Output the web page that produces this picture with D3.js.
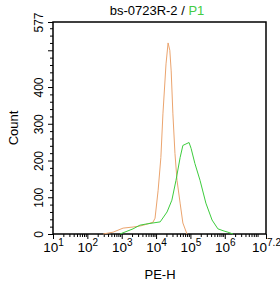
<!DOCTYPE html>
<html lang="en">
<head>
<meta charset="utf-8">
<title>bs-0723R-2 / P1</title>
<script src="https://cdn.jsdelivr.net/npm/d3@7"></script>
<style>
  body { margin: 0; background: #fff; }
  text { font-family: "Liberation Sans", Arial, sans-serif; }
</style>
</head>
<body>
<script>
// PE-H as log10 exponent, counts
var ctrlLog   = [2.46, 2.75, 3.04, 3.33, 3.55, 3.74, 3.91, 3.97, 4.06, 4.14, 4.20, 4.29, 4.35, 4.40, 4.44, 4.49, 4.55, 4.61, 4.70, 4.78, 4.90];
var ctrlCount = [0,    5,    16,   19,   22,   27,   32,   43,   119,  208,  327,  463,  520,  500,  444,  327,  219,  146,  84,   30,   0];

var p1Log   = [2.95, 3.33, 3.53, 3.70, 3.91, 4.12, 4.32, 4.46, 4.58, 4.70, 4.78, 4.87, 4.96, 5.02, 5.13, 5.28, 5.45, 5.63, 5.80, 5.98, 6.09, 6.24];
var p1Count = [0,    14,   24,   27,   30,   33,   60,   92,   146,  208,  241,  245,  249,  233,  192,  146,  84,   38,   14,   8,    5,    0];

var xMajor = [1, 2, 3, 4, 5, 6, 7.2];
var yLabels = [0, 100, 200, 300, 400, 577];
var yMajor = [0, 100, 200, 300, 400, 500, 577];

var w = 280, h = 286;
var mLeft = 53, mRight = 266, mTop = 22, mBottom = 234;

var svg = d3.select("body").append("svg")
  .attr("width", w)
  .attr("height", h);

var x = d3.scaleLog().domain([10, Math.pow(10, 7.2)]).range([mLeft, mRight]);
var y = d3.scaleLinear().domain([0, 577]).range([mBottom, mTop]);

// minor ticks
var xMinor = [];
for (var e = 1; e < 7.2; e++) {
  for (var k = 2; k <= 9; k++) {
    var v = k * Math.pow(10, e);
    if (v < Math.pow(10, 7.2)) xMinor.push(v);
  }
}
var yMinor = d3.range(0, 577, 20).filter(function(d) { return d % 100 != 0; });

svg.append("g")
  .attr("transform", "translate(0," + mBottom + ")")
  .call(d3.axisBottom(x).tickValues(xMinor).tickSize(3).tickFormat(""))
  .call(function(g) { g.select(".domain").remove(); });

svg.append("g")
  .attr("transform", "translate(" + mLeft + ",0)")
  .call(d3.axisLeft(y).tickValues(yMinor).tickSize(3).tickFormat(""))
  .call(function(g) { g.select(".domain").remove(); });

// major x axis
var gx = svg.append("g")
  .attr("transform", "translate(0," + mBottom + ")")
  .call(d3.axisBottom(x)
    .tickValues(xMajor.map(function(d) { return Math.pow(10, d); }))
    .tickSize(5).tickFormat(""));
gx.select(".domain").remove();
gx.selectAll(".tick").each(function(d, i) {
  var t = d3.select(this).append("text")
    .attr("y", 18)
    .attr("fill", "#000")
    .attr("text-anchor", "middle")
    .attr("font-size", "13.5px");
  t.append("tspan").text("10");
  t.append("tspan").attr("dy", -6).attr("font-size", "10px").text(xMajor[i]);
});

// major y axis
var gy = svg.append("g")
  .attr("transform", "translate(" + mLeft + ",0)")
  .call(d3.axisLeft(y).tickValues(yMajor).tickSize(5).tickFormat(""));
gy.select(".domain").remove();
gy.selectAll(".tick").each(function(d) {
  if (yLabels.indexOf(d) < 0) return;
  d3.select(this).append("text")
    .attr("transform", "translate(-10,0) rotate(-90)")
    .attr("text-anchor", "middle")
    .attr("fill", "#000")
    .attr("font-size", "12px")
    .text(d);
});

// frame
svg.append("rect")
  .attr("x", mLeft).attr("y", mTop)
  .attr("width", mRight - mLeft).attr("height", mBottom - mTop)
  .attr("fill", "none").attr("stroke", "#000").attr("stroke-width", 1.5);

var line = d3.line()
  .x(function(d) { return x(Math.pow(10, d[0])); })
  .y(function(d) { return y(d[1]); });

svg.append("path")
  .datum(d3.zip(ctrlLog, ctrlCount))
  .attr("d", line)
  .attr("fill", "none")
  .attr("stroke", "#eba46e")
  .attr("stroke-width", 1);

svg.append("path")
  .datum(d3.zip(p1Log, p1Count))
  .attr("d", line)
  .attr("fill", "none")
  .attr("stroke", "#3dcc3d")
  .attr("stroke-width", 1);

// title
var title = svg.append("text")
  .attr("x", 157).attr("y", 15)
  .attr("text-anchor", "middle")
  .attr("font-size", "13px");
title.append("tspan").attr("fill", "#000").text("bs-0723R-2 / ");
title.append("tspan").attr("fill", "#44cc44").text("P1");

svg.append("text")
  .attr("x", 160).attr("y", 279)
  .attr("text-anchor", "middle")
  .attr("font-size", "13px")
  .text("PE-H");

svg.append("text")
  .attr("transform", "translate(18,128) rotate(-90)")
  .attr("text-anchor", "middle")
  .attr("font-size", "13px")
  .text("Count");
</script>
</body>
</html>
